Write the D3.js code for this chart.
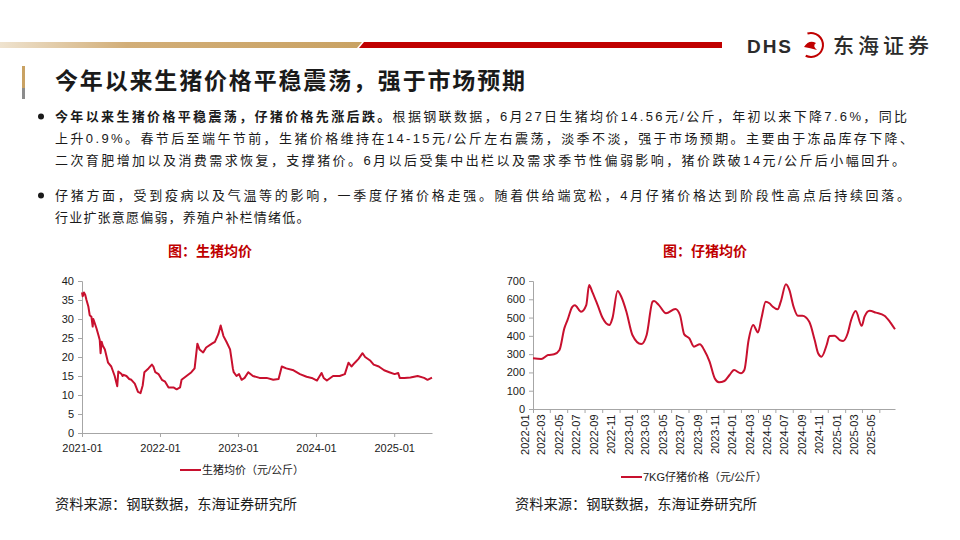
<!DOCTYPE html>
<html>
<head>
<meta charset="utf-8">
<script src="https://cdn.jsdelivr.net/npm/d3@7"></script>
<style>
  body { margin: 0; background: #fff; }
  svg { display: block; font-family: "Liberation Sans", "Noto Sans CJK SC", sans-serif; }
</style>
</head>
<body>
<div id="chart"></div>
<script>
// ---- data ----
var hogDates = ["2021-01-01","2021-01-04","2021-01-06","2021-01-10","2021-01-16","2021-01-22","2021-01-31","2021-02-06","2021-02-14",
  "2021-02-20","2021-02-23","2021-03-01","2021-03-10","2021-03-20","2021-03-25","2021-03-29","2021-04-03","2021-04-08",
  "2021-04-18","2021-05-03","2021-05-18","2021-06-03","2021-06-15","2021-06-20","2021-07-05","2021-07-10","2021-07-15","2021-07-28",
  "2021-08-10","2021-08-20","2021-09-05","2021-09-20","2021-10-02","2021-10-12","2021-10-20","2021-11-08","2021-11-24",
  "2021-12-01","2021-12-10","2021-12-25","2022-01-10","2022-01-25","2022-02-10","2022-03-05","2022-03-20","2022-04-05",
  "2022-04-12","2022-05-05","2022-05-28","2022-06-12","2022-06-25","2022-07-05","2022-07-22","2022-08-05","2022-09-01",
  "2022-09-15","2022-10-01","2022-10-12","2022-10-25","2022-11-08","2022-11-25","2022-12-03","2022-12-08","2022-12-12","2022-12-25",
  "2023-01-06","2023-01-18","2023-02-01","2023-02-18","2023-03-12","2023-04-12","2023-05-15","2023-06-15","2023-07-10",
  "2023-07-25","2023-08-15","2023-09-18","2023-10-18","2023-11-18","2023-12-12","2024-01-06","2024-01-27","2024-02-06",
  "2024-02-21","2024-03-21","2024-04-21","2024-05-15","2024-06-01","2024-06-15","2024-07-01","2024-07-18","2024-08-06",
  "2024-08-18","2024-09-12","2024-09-27","2024-10-21","2024-11-15","2024-12-09","2025-01-03","2025-01-20","2025-01-27","2025-02-18",
  "2025-03-18","2025-04-21","2025-05-21","2025-06-06","2025-06-27"];
var hogPrices = [37.0,36.0,36.2,37.0,36.4,35.0,33.2,31.0,30.6,
  28.0,30.0,29.0,27.5,25.5,24.5,21.0,24.0,23.0,
  22.0,18.5,17.5,15.0,12.3,16.2,15.5,15.0,15.3,15.0,
  14.2,14.0,13.0,10.8,10.5,12.5,16.0,17.0,18.0,
  17.5,16.0,15.5,14.0,13.5,12.0,12.0,11.5,12.0,
  14.0,15.0,16.0,17.0,23.5,22.0,21.2,22.5,23.5,
  24.0,26.0,28.3,25.5,24.0,22.0,19.0,17.0,16.0,15.0,
  15.5,14.0,14.5,16.0,15.0,14.5,14.5,14.0,14.2,
  17.5,17.0,16.5,15.5,14.8,14.5,13.8,15.8,14.5,
  13.8,15.0,15.0,15.5,18.5,17.5,18.5,19.5,21.0,
  20.0,19.0,18.0,17.5,16.5,16.0,15.5,15.8,14.5,14.5,
  14.6,15.0,14.5,14.0,14.6];

var pigletDates = ["2022-01-01","2022-01-30","2022-02-23","2022-03-16","2022-04-04","2022-04-21","2022-05-02","2022-05-19",
  "2022-05-28","2022-06-19","2022-07-07","2022-07-17","2022-07-28","2022-08-16","2022-09-03","2022-09-26","2022-10-07",
  "2022-10-25","2022-11-07","2022-11-25","2022-12-16","2023-01-16","2023-02-04","2023-02-25","2023-03-02","2023-03-19",
  "2023-04-13","2023-05-16","2023-06-01","2023-06-16","2023-07-04","2023-07-20","2023-08-10","2023-08-25","2023-09-13",
  "2023-10-01","2023-10-16","2023-11-04","2023-11-22","2023-12-08","2024-01-01","2024-01-13","2024-01-28","2024-02-13",
  "2024-03-01","2024-03-13","2024-03-28","2024-04-10","2024-04-22","2024-05-09","2024-05-20","2024-06-07","2024-06-19",
  "2024-07-04","2024-07-19","2024-08-04","2024-08-28","2024-09-16","2024-09-28","2024-10-10","2024-10-28","2024-11-07",
  "2024-11-25","2024-12-13","2024-12-25","2025-01-10","2025-01-22","2025-02-07","2025-02-28","2025-03-10","2025-03-28",
  "2025-04-19","2025-05-19","2025-06-07","2025-06-25"];
var pigletPrices = [277,273,295,299,323,441,486,559,
  568,532,568,678,641,568,496,459,497,
  645,614,532,405,355,405,587,590,568,
  523,547,514,408,386,341,354,323,259,
  168,146,153,186,213,195,213,377,459,
  419,496,587,578,559,545,587,682,651,
  559,510,510,477,377,305,286,350,399,
  401,377,372,414,487,536,455,505,537,
  527,510,477,436];

var hogTicks = [0, 5, 10, 15, 20, 25, 30, 35, 40];
var pigletTicks = [0, 100, 200, 300, 400, 500, 600, 700];

var pageTitle = "今年以来生猪价格平稳震荡，强于市场预期";
var bodyBold = "今年以来生猪价格平稳震荡，仔猪价格先涨后跌。";
var bodyLines = [
  "根据钢联数据，6月27日生猪均价14.56元/公斤，年初以来下降7.6%，同比",
  "上升0.9%。春节后至端午节前，生猪价格维持在14-15元/公斤左右震荡，淡季不淡，强于市场预期。主要由于冻品库存下降、",
  "二次育肥增加以及消费需求恢复，支撑猪价。6月以后受集中出栏以及需求季节性偏弱影响，猪价跌破14元/公斤后小幅回升。",
  "仔猪方面，受到疫病以及气温等的影响，一季度仔猪价格走强。随着供给端宽松，4月仔猪价格达到阶段性高点后持续回落。",
  "行业扩张意愿偏弱，养殖户补栏情绪低。"
];
var sourceText = "资料来源：钢联数据，东海证券研究所";

var parse = d3.timeParse("%Y-%m-%d");
var red = "#C8102E";
var titleRed = "#C00000";

var svg = d3.select("#chart").append("svg")
  .attr("width", 960)
  .attr("height", 540);

// ---- header ----
var defs = svg.append("defs");
var grad = defs.append("linearGradient").attr("id", "gold").attr("x1", 0).attr("x2", 1);
grad.append("stop").attr("offset", "0%").attr("stop-color", "#EFE3CF");
grad.append("stop").attr("offset", "35%").attr("stop-color", "#D2AE78");
grad.append("stop").attr("offset", "100%").attr("stop-color", "#C9A263");

svg.append("path")
  .attr("d", "M0,42 L362,42 L357,48 L0,48 Z")
  .attr("fill", "url(#gold)");
svg.append("path")
  .attr("d", "M364,42 L722,42 L722,48 L359,48 Z")
  .attr("fill", "#C00000");

svg.append("text")
  .attr("x", 747).attr("y", 53)
  .attr("font-size", 19).attr("font-weight", 700)
  .attr("fill", "#2B2B2B")
  .attr("textLength", 44)
  .text("DHS");

// simple swirl mark
var logo = svg.append("g").attr("transform", "translate(811,45)");
logo.append("path")
  .attr("d", d3.arc()({ innerRadius: 11, outerRadius: 13, startAngle: -0.3, endAngle: 3.6 }))
  .attr("fill", titleRed);
logo.append("path")
  .attr("d", "M-7,2 Q-2,-6 5,-2 Q1,1 6,5 Q-1,3 -7,2 Z")
  .attr("fill", titleRed);

svg.append("text")
  .attr("x", 833).attr("y", 53)
  .attr("font-family", "Noto Sans CJK SC")
  .attr("font-size", 21).attr("font-weight", 500)
  .attr("fill", "#2B2B2B")
  .attr("textLength", 96)
  .text("东海证券");

// title with side bar
svg.append("rect").attr("x", 22).attr("y", 66).attr("width", 3).attr("height", 22).attr("fill", "#C9A263");
svg.append("rect").attr("x", 22).attr("y", 88).attr("width", 3).attr("height", 11).attr("fill", "#8C8C8C");
svg.append("text")
  .attr("x", 55).attr("y", 89)
  .attr("font-family", "Noto Sans CJK SC")
  .attr("font-size", 23).attr("font-weight", 700)
  .attr("fill", "#1A1A1A")
  .attr("textLength", 470)
  .text(pageTitle);

// ---- body text ----
var lineY = [121, 143, 165, 200, 222];
var lineW = [852, 858, 850, 855, null];
var body = svg.append("g")
  .attr("font-family", "Liberation Sans, Noto Sans CJK SC")
  .attr("font-size", 13)
  .attr("fill", "#1A1A1A");

[0, 3].forEach(function (i) {
  body.append("circle").attr("cx", 41).attr("cy", lineY[i] - 4.5).attr("r", 3).attr("fill", "#1A1A1A");
});

bodyLines.forEach(function (line, i) {
  var t = body.append("text")
    .attr("x", 55).attr("y", lineY[i]);
  if (i === 0) {
    t.append("tspan").attr("font-weight", 700).text(bodyBold);
    t.append("tspan").text(line);
  } else {
    t.text(line);
  }
  if (lineW[i]) {
    t.attr("textLength", lineW[i]).attr("lengthAdjust", "spacing");
  } else {
    t.attr("letter-spacing", 1.2);
  }
});

// ---- chart helper ----
function drawChart(opt) {
  var g = svg.append("g");
  var data = opt.dates.map(function (d, i) { return { date: parse(d), value: opt.values[i] }; });

  var x = d3.scaleTime().domain(opt.xDomain).range([opt.left, opt.right]);
  var y = d3.scaleLinear().domain([opt.yTicks[0], opt.yTicks[opt.yTicks.length - 1]]).range([opt.bottom, opt.top]);

  var yAxis = g.append("g")
    .attr("transform", "translate(" + opt.left + ",0)")
    .call(d3.axisLeft(y).tickValues(opt.yTicks).tickSize(4).tickPadding(4));
  yAxis.selectAll("text").attr("font-size", 11).attr("fill", "#1A1A1A");

  var xAxis = g.append("g")
    .attr("transform", "translate(0," + opt.bottom + ")")
    .call(d3.axisBottom(x).tickValues(opt.xTicks).tickFormat(d3.timeFormat("%Y-%m")).tickSize(4).tickSizeOuter(0));
  xAxis.selectAll("text").attr("font-size", 11).attr("fill", "#1A1A1A");
  if (opt.rotate) {
    xAxis.selectAll("text")
      .attr("transform", "rotate(-90)")
      .attr("text-anchor", "end")
      .attr("dx", "-0.5em")
      .attr("dy", "-0.45em")
      .attr("x", 0).attr("y", 0);
  } else {
    xAxis.selectAll("text").attr("dy", "1.05em");
  }

  g.selectAll(".domain, .tick line").attr("stroke", "#A6A6A6");

  g.append("path")
    .datum(data)
    .attr("fill", "none")
    .attr("stroke", red)
    .attr("stroke-width", 2)
    .attr("stroke-linejoin", "round")
    .attr("d", d3.line().curve(opt.curve)
      .x(function (d) { return x(d.date); })
      .y(function (d) { return y(d.value); }));

  // chart title
  g.append("text")
    .attr("x", opt.titleX).attr("y", 256)
    .attr("text-anchor", "middle")
    .attr("font-family", "Noto Sans CJK SC")
    .attr("font-size", 14).attr("font-weight", 700)
    .attr("fill", titleRed)
    .text(opt.title);

  // legend
  g.append("line")
    .attr("x1", opt.legendX).attr("x2", opt.legendX + 21)
    .attr("y1", opt.legendY).attr("y2", opt.legendY)
    .attr("stroke", red).attr("stroke-width", 2);
  g.append("text")
    .attr("x", opt.legendX + 22).attr("y", opt.legendY + 4)
    .attr("font-size", 11).attr("fill", "#1A1A1A")
    .text(opt.legend);

  // source
  g.append("text")
    .attr("x", opt.sourceX).attr("y", 509)
    .attr("font-family", "Noto Sans CJK SC")
    .attr("font-size", 14).attr("fill", "#1A1A1A")
    .attr("textLength", 242)
    .attr("lengthAdjust", "spacingAndGlyphs")
    .text(sourceText);
}

drawChart({
  dates: hogDates, values: hogPrices,
  xDomain: [parse("2021-01-01"), parse("2025-06-27")],
  xTicks: ["2021-01-01", "2022-01-01", "2023-01-01", "2024-01-01", "2025-01-01"].map(parse),
  yTicks: hogTicks,
  left: 82, right: 432, top: 281, bottom: 433,
  curve: d3.curveLinear,
  rotate: false,
  title: "图：生猪均价", titleX: 210,
  legend: "生猪均价（元/公斤）", legendX: 180, legendY: 470,
  sourceX: 55
});

drawChart({
  dates: pigletDates, values: pigletPrices,
  xDomain: [parse("2022-01-01"), parse("2025-06-25")],
  xTicks: d3.timeMonth.every(2).range(parse("2022-01-01"), parse("2025-06-25")),
  yTicks: pigletTicks,
  left: 533, right: 895, top: 281, bottom: 409,
  curve: d3.curveMonotoneX,
  rotate: true,
  title: "图：仔猪均价", titleX: 705,
  legend: "7KG仔猪价格（元/公斤）", legendX: 621, legendY: 477,
  sourceX: 515
});
</script>
</body>
</html>
